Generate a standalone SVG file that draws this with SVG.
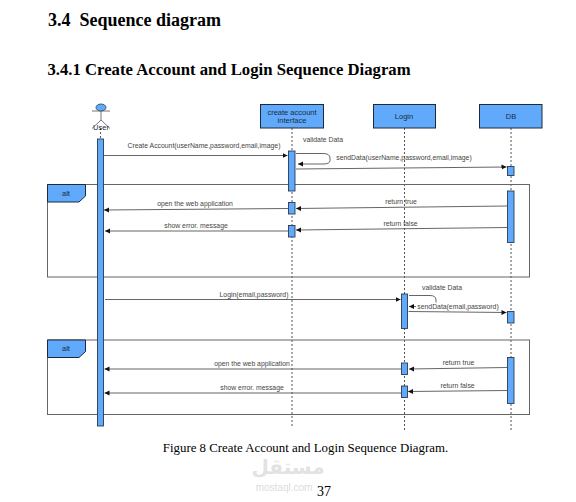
<svg xmlns="http://www.w3.org/2000/svg" width="576" height="502" viewBox="0 0 576 502">
<style>
text{font-family:"Liberation Sans",Arial,sans-serif;fill:#444}
.h{font-family:"Liberation Serif","Times New Roman",serif;font-weight:bold;fill:#000}
.s{font-family:"Liberation Serif","Times New Roman",serif;fill:#000}
.m{font-size:6.850px;text-anchor:middle}
.n{font-size:7.500px;text-anchor:middle;fill:#1a2a40}
.box{fill:#61aafb;stroke:#1c2a3c;stroke-width:1}
.act{fill:#61aafb;stroke:#2a3a50;stroke-width:.9}
.life{stroke:#555;stroke-width:1;stroke-dasharray:2 2;fill:none}
.msg{stroke:#555;stroke-width:.9;fill:none}
.frame{fill:none;stroke:#666;stroke-width:1}
</style>
<defs>
<marker id="a" markerUnits="userSpaceOnUse" markerWidth="6" markerHeight="6" refX="5" refY="3" orient="auto"><path d="M0 .5L5 3L0 5.500Z" fill="#111"/></marker>
</defs>
<rect width="576" height="502" fill="#fff"/>
<text class="h" x="48" y="26" font-size="18" xml:space="preserve">3.4  Sequence diagram</text>
<text class="h" x="47.500" y="75" font-size="16.700">3.4.1 Create Account and Login Sequence Diagram</text>

<g id="lifelines">
<path class="life" d="M100.500 128V139"/>
<path class="life" d="M292 128V427"/>
<path class="life" d="M404.500 128V432"/>
<path class="life" d="M511 128V432"/>
</g>
<g id="frames">
<g id="alt1">
<rect class="frame" x="47.500" y="184.500" width="482" height="92.500"/>
<path class="box" d="M47.500 184.500H85.500V196L79 202H47.500Z"/>
<text class="n" x="66" y="196">alt</text>
</g>
<g id="alt2">
<rect class="frame" x="47.500" y="340" width="482" height="74.500"/>
<path class="box" d="M47.500 340H85.500V351.500L79 357.500H47.500Z"/>
<text class="n" x="66" y="351">alt</text>
</g>
</g>
<g id="connectors">
<path class="msg" d="M104 155.500H287.500" marker-end="url(#a)"/>
<path class="msg" d="M296 153.500H323Q330 153.500 330 158V160.500Q330 164 323 164H298" marker-end="url(#a)"/>
<path class="msg" d="M296 169L506.500 167" marker-end="url(#a)"/>
<path class="msg" d="M288 208.500L104 210" marker-end="url(#a)"/>
<path class="msg" d="M507 206L296 208.500" marker-end="url(#a)"/>
<path class="msg" d="M288 231H105" marker-end="url(#a)"/>
<path class="msg" d="M507 227.500L296 230" marker-end="url(#a)"/>
<path class="msg" d="M105 299.500H400.500" marker-end="url(#a)"/>
<path class="msg" d="M409 295.500H430Q436 295.500 436 300V302.500" />
<path class="msg" d="M416 306.500H409" marker-end="url(#a)"/>
<path class="msg" d="M408.500 311.500L506.500 312.500" marker-end="url(#a)"/>
<path class="msg" d="M401 369H104.500" marker-end="url(#a)"/>
<path class="msg" d="M507 367.500L409 369" marker-end="url(#a)"/>
<path class="msg" d="M401 393H104.500" marker-end="url(#a)"/>
<path class="msg" d="M507 390.500L408 391.500" marker-end="url(#a)"/>
</g>
<g id="user">
<ellipse cx="101" cy="107.500" rx="5" ry="3.500" fill="#61aafb" stroke="#2a3a50" stroke-width=".8"/>
<path d="M101 111V120M92 111H110M101 120L92 128.500M101 120L110 128.500" stroke="#666" stroke-width=".9" fill="none"/>
<text class="n" x="101" y="130">User</text>
<rect class="act" x="97.500" y="139" width="6" height="287"/>
</g>
<g id="create-account-interface">
<rect class="box" x="260.500" y="104.500" width="63" height="23.500"/>
<text class="n" x="292" y="115">create account</text>
<text class="n" x="292" y="123">interface</text>
<rect class="act" x="288.500" y="151" width="6.500" height="40"/>
<rect class="act" x="288.500" y="202.500" width="6.500" height="11.500"/>
<rect class="act" x="288.500" y="225.500" width="6.500" height="11.500"/>
</g>
<g id="login">
<rect class="box" x="373.500" y="104.500" width="62" height="23.500"/>
<text class="n" x="404" y="119">Login</text>
<rect class="act" x="401.500" y="294" width="6" height="34.500"/>
<rect class="act" x="401.500" y="363" width="6" height="11.500"/>
<rect class="act" x="401.500" y="386" width="6" height="11.500"/>
</g>
<g id="db">
<rect class="box" x="479.500" y="104.500" width="62.500" height="23.500"/>
<text class="n" x="511" y="119">DB</text>
<rect class="act" x="507.500" y="166.500" width="6.500" height="9"/>
<rect class="act" x="507.500" y="191" width="6.500" height="51.500"/>
<rect class="act" x="507.500" y="311.500" width="6.500" height="11.500"/>
<rect class="act" x="507.500" y="357.500" width="6.500" height="46"/>
</g>
<g id="labels">
<text class="m" x="204" y="148">Create Account(userName,password,email,image)</text>
<text class="m" x="323" y="141.500">validate Data</text>
<text class="m" x="404" y="159.500">sendData(userName,password,email,image)</text>
<text class="m" x="195" y="206">open the web application</text>
<text class="m" x="196" y="228">show error. message</text>
<text class="m" x="401" y="204">return true</text>
<text class="m" x="400.500" y="225.500">return false</text>
<text class="m" x="254" y="297">Login(email,password)</text>
<text class="m" x="442" y="290">validate Data</text>
<text class="m" x="458" y="309">sendData(email,password)</text>
<text class="m" x="252" y="366">open the web application</text>
<text class="m" x="252" y="390">show error. message</text>
<text class="m" x="458.500" y="365">return true</text>
<text class="m" x="457.500" y="387.500">return false</text>
</g>
<text class="s" x="305.500" y="452" font-size="12.850" text-anchor="middle">Figure 8 Create Account and Login Sequence Diagram.</text>
<text x="288" y="474" font-size="20" text-anchor="middle" style="font-family:'DejaVu Sans',sans-serif;fill:#e2e2e2;font-weight:bold">مستقل</text>
<text x="284" y="491" font-size="10" text-anchor="middle" style="fill:#dcdcdc">mostaql.com</text>
<text class="s" x="324" y="496" font-size="14" text-anchor="middle">37</text>
</svg>
